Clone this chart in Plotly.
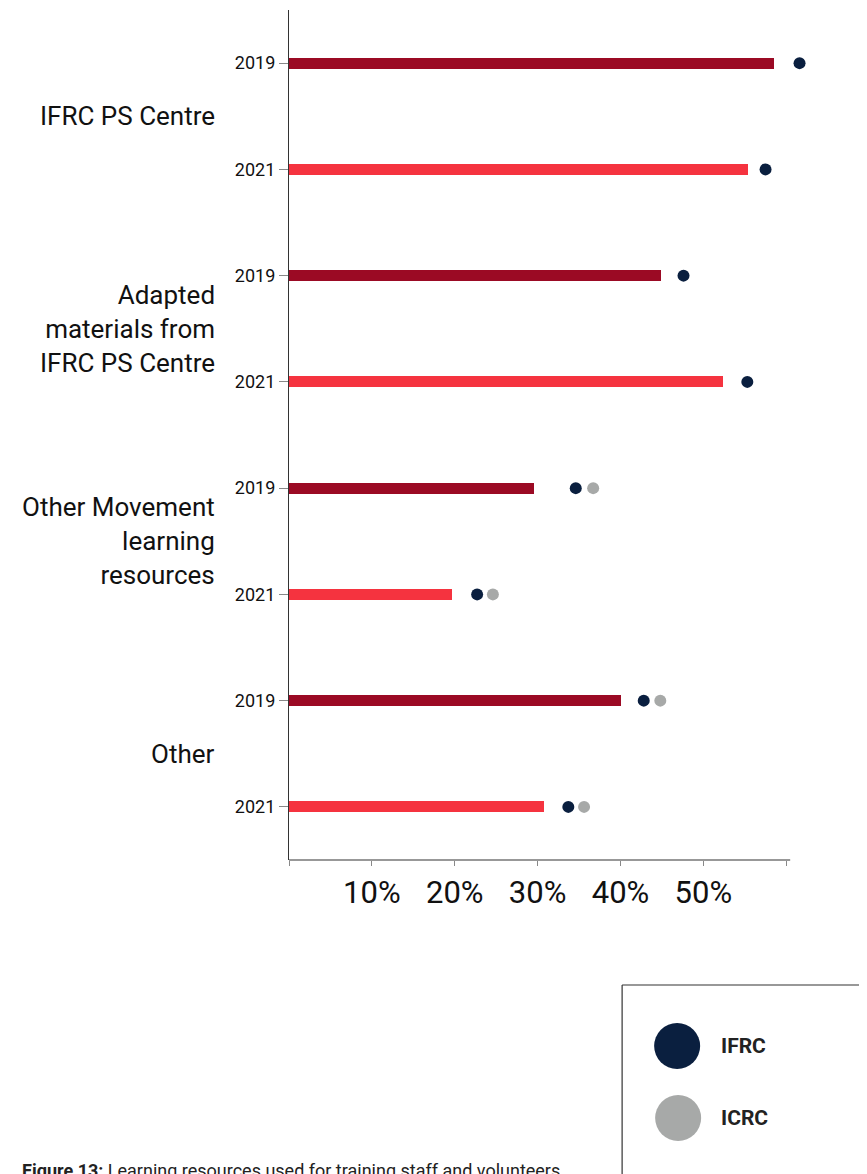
import plotly.graph_objects as go

# ---- data ----
groups = ["IFRC PS Centre", "Adapted<br>materials from<br>IFRC PS Centre",
          "Other Movement<br>learning<br>resources", "Other"]
years = ["2019", "2021"]
bar_2019 = [58.5, 44.9, 29.5, 40.0]
bar_2021 = [55.4, 52.4, 19.7, 30.8]
ifrc_2019 = [61.6, 47.6, 34.6, 42.8]
ifrc_2021 = [57.5, 55.3, 22.7, 33.7]
icrc_2019 = [None, None, 36.7, 44.8]
icrc_2021 = [None, None, 24.6, 35.6]
x_ticks = [0, 10, 20, 30, 40, 50, 60]
x_labels = ["", "10%", "20%", "30%", "40%", "50%", ""]
x_axis_end = 60.47   # where the drawn axis line stops
x_range_max = 62.5   # room for the outermost dot

FONT = "Roboto, Liberation Sans, sans-serif"
C19 = "#9b0a24"
C21 = "#f5333f"
NAVY = "#0a1f3f"
GREY = "#a7a9a8"

OFF = 8  # page body margin
W, H = 867 - OFF, 1174 - OFF
# plot area in screenshot pixels
PX_PER_UNIT = (790 - 289) / x_axis_end
L, T, B = 289, 10, 860
R = L + x_range_max * PX_PER_UNIT

pos_2019 = [2 * i for i in range(len(groups))]
pos_2021 = [2 * i + 1 for i in range(len(groups))]

fig = go.Figure()
fig.add_trace(go.Bar(x=bar_2019, y=pos_2019, orientation="h", marker_color=C19,
                     marker_line_width=0, width=0.105, showlegend=False))
fig.add_trace(go.Bar(x=bar_2021, y=pos_2021, orientation="h", marker_color=C21,
                     marker_line_width=0, width=0.105, showlegend=False))
fig.add_trace(go.Scatter(x=ifrc_2019 + ifrc_2021, y=pos_2019 + pos_2021, mode="markers",
                         marker=dict(color=NAVY, size=12), cliponaxis=False,
                         showlegend=False))
fig.add_trace(go.Scatter(x=icrc_2019 + icrc_2021, y=pos_2019 + pos_2021, mode="markers",
                         marker=dict(color=GREY, size=12), cliponaxis=False,
                         showlegend=False))

tickvals = pos_2019 + pos_2021
ticktext = [years[0]] * len(groups) + [years[1]] * len(groups)

fig.update_yaxes(range=[7.5, -0.5], tickvals=tickvals, ticktext=ticktext,
                 showline=True, linecolor="#333", linewidth=1.2,
                 ticks="outside", ticklen=9, tickcolor="#888", showgrid=False,
                 zeroline=False,
                 tickfont=dict(family=FONT, size=18, color="#111"))
fig.update_xaxes(range=[0, x_range_max], tickvals=x_ticks, ticktext=x_labels,
                 showline=False,
                 ticks="outside", ticklen=5, tickcolor="#888", showgrid=False,
                 zeroline=False,
                 tickfont=dict(family=FONT, size=31, color="#111"))
# x axis line (stops at the axis end, not the padded range)
fig.add_shape(type="line", xref="x", yref="paper", x0=0, x1=x_axis_end, y0=0, y1=0,
              line=dict(color="#333", width=1.2))

pw, ph = R - L, B - T
def px(x):
    return (x - L) / pw
def py(y):
    return (B - y) / ph

# group labels
for i, g in enumerate(groups):
    fig.add_annotation(x=px(217), xref="paper", y=2 * i + 0.5, yref="y",
                       text=g, showarrow=False, xanchor="right", yanchor="middle",
                       align="right",
                       font=dict(family=FONT, size=26, color="#111"))

# legend box (top and left borders; the rest runs off the page)
fig.add_shape(type="line", xref="paper", yref="paper",
              x0=px(622), x1=px(900), y0=py(985), y1=py(985),
              line=dict(color="#333", width=1.2))
fig.add_shape(type="line", xref="paper", yref="paper",
              x0=px(622), x1=px(622), y0=py(985), y1=py(1200),
              line=dict(color="#333", width=1.2))
for (cx, cy, col, lab) in [(677, 1046, NAVY, "IFRC"), (678, 1118, GREY, "ICRC")]:
    r = 23
    fig.add_shape(type="circle", xref="paper", yref="paper",
                  x0=px(cx - r), x1=px(cx + r), y0=py(cy + r), y1=py(cy - r),
                  line=dict(width=0), fillcolor=col)
    fig.add_annotation(x=px(719), xref="paper", y=py(cy), yref="paper",
                       text="<b>" + lab + "</b>", showarrow=False,
                       xanchor="left", yanchor="middle",
                       font=dict(family=FONT, size=21, color="#222"))

# caption
fig.add_annotation(x=px(20), xref="paper", y=py(1158), yref="paper",
                   text="<b>Figure 13:</b> Learning resources used for training staff and volunteers",
                   showarrow=False, xanchor="left", yanchor="top",
                   font=dict(family=FONT, size=18, color="#222"))

fig.update_layout(width=W, height=H,
                  margin=dict(l=L - OFF, r=W - (R - OFF), t=T - OFF, b=H - (B - OFF), pad=0),
                  plot_bgcolor="white", paper_bgcolor="white", bargap=0)
fig.write_html("out.html")
